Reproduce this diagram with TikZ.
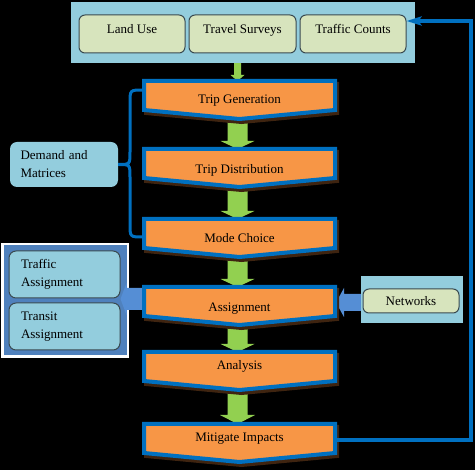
\documentclass[tikz,border=0pt]{standalone}
\usepackage{fontspec}
\setmainfont{Liberation Serif}
\usetikzlibrary{calc,arrows.meta}
\pgfdeclarelayer{back}
\pgfsetlayers{back,main}
\definecolor{bgblue}{HTML}{93CDDD}
\definecolor{pale}{HTML}{D7E4BD}
\definecolor{orng}{HTML}{F79646}
\definecolor{dblue}{HTML}{0070C0}
\definecolor{mblue}{HTML}{558ED5}
\definecolor{pblue}{HTML}{4F81BD}
\definecolor{grn}{HTML}{92D050}
\definecolor{shad}{HTML}{3F2410}
\definecolor{edgec}{HTML}{3A4A50}
\tikzset{
  every node/.style={font=\fontsize{13}{18}\selectfont, inner sep=0pt},
  panel/.style={fill=bgblue},
  palebox/.style={fill=pale, draw=edgec, line width=1pt, rounded corners=6pt, minimum height=38pt, text height=9pt, text depth=9pt},
  sidebox/.style={fill=bgblue, rounded corners=7pt, text width=87pt, align=left},
  flowtext/.style={text height=9pt, text depth=0pt},
  bluelink/.style={draw=dblue, line width=3pt},
}
% orange flow box: name, top y, text y, text
\newcommand\flowbox[4]{%
  \filldraw[shad, line width=4pt] (146,#2+5) -- (337,#2+5) -- (337,#2+34) -- (241.5,#2+43) -- (146,#2+34) -- cycle;
  \draw[dblue, line width=4pt, fill=orng] (144,#2+2) -- (335,#2+2) -- (335,#2+31) -- (239.5,#2+40) -- (144,#2+31) -- cycle;
  \node[flowtext] (#1) at (239.5,#3) {#4};
  \coordinate (#1-top) at (237.5,#2+2);
  \coordinate (#1-bot) at (237.5,#2+30);
  \coordinate (#1-nw) at (142,#2);
  \coordinate (#1-ne) at (337,#2);
}
% green block arrow downward: from, to, half shaft, half head, head length
\newcommand\garrow[5]{%
  \fill[grn] ($(#1)+(-#3,0)$) -- ($(#1)+(#3,0)$) -- ($(#2)+(#3,-#5)$) -- ($(#2)+(#4,-#5)$) -- (#2) -- ($(#2)+(-#4,-#5)$) -- ($(#2)+(-#3,-#5)$) -- cycle;
}
% blue block arrow pointing left: from, to, half shaft, half head, head length
\newcommand\barrow[5]{%
  \fill[mblue] ($(#1)+(0,-#3)$) -- ($(#2)+(#5,-#3)$) -- ($(#2)+(#5,-#4)$) -- (#2) -- ($(#2)+(#5,#4)$) -- ($(#2)+(#5,#3)$) -- ($(#1)+(0,#3)$) -- cycle;
}
\begin{document}
\begin{tikzpicture}[x=1pt,y=-1pt,line join=miter]
\begin{pgfonlayer}{back}
\fill[black] (0,0) rectangle (475,470);
\end{pgfonlayer}
\useasboundingbox (0,0) rectangle (475,470);

% top data panel
\node[panel, minimum width=344pt, minimum height=61pt] (tp) at (243,32.5) {};
\node[palebox, minimum width=106pt] (lu) at (132,34) {Land Use};
\node[palebox, minimum width=107pt] (ts) at (242.5,34) {Travel Surveys};
\node[palebox, minimum width=106pt] (tc) at (353,34) {Traffic Counts};
\coordinate (tp-bot) at (237.5,58);

% demand box
\node[sidebox, minimum width=108pt, minimum height=45pt] (dm) at (64,164.5) {Demand and\\Matrices};

% networks panel
\node[panel, minimum width=102pt, minimum height=47pt] (np) at (412,299.5) {};
\node[palebox, minimum width=96pt, minimum height=24pt, text depth=0pt] (nw) at (411,301) {Networks};

% flow boxes
\flowbox{tg}{79}{99}{Trip Generation}
\flowbox{td}{147}{169}{Trip Distribution}
\flowbox{mc}{217}{238}{Mode Choice}
\flowbox{as}{285}{307}{Assignment}
\flowbox{an}{350}{365}{Analysis}
\flowbox{mi}{422}{437}{Mitigate Impacts}

\begin{pgfonlayer}{back}
  % left assignment panel
  \node[fill=pblue, draw=white, line width=2.5pt, minimum width=125.5pt, minimum height=112.5pt] (lp) at (65,300.5) {};
  \node[sidebox, draw=edgec, line width=1pt, minimum width=111pt, minimum height=47pt] (ta) at (64.5,274.5) {Traffic\\Assignment};
  \node[sidebox, draw=edgec, line width=1pt, minimum width=111pt, minimum height=47pt] (tr) at (64.5,326.5) {Transit\\Assignment};
  % green arrows
  \garrow{tp-bot}{tg-top}{3.5}{7}{6}
  \garrow{tg-bot}{td-top}{10}{17}{8}
  \garrow{td-bot}{mc-top}{10}{17}{8}
  \garrow{mc-bot}{as-top}{10}{17}{8}
  \garrow{as-bot}{an-top}{10}{17}{8}
  \garrow{an-bot}{mi-top}{10}{17.5}{9}
  % blue block arrows
  \coordinate (asW) at ($(as-nw)+(4,14)$);
  \barrow{asW}{ta.east |- asW}{11}{16}{6}
  \coordinate (npW) at ($(np.west)+(2,3)$);
  \coordinate (asE) at ($(as-ne)+(-1,17.5)$);
  \barrow{npW}{asE}{8.5}{14.5}{8}
\end{pgfonlayer}

% brace
\draw[bluelink] ($(tg-nw)+(1,11)$) .. controls (130,90) .. (130,103) -- (130,152)
  .. controls (130,164.5) .. (dm.east) .. controls (130,164.5) .. (130,177) -- (130,224)
  .. controls (130,237) .. ($(mc-nw)+(1,20)$);

% feedback loop
\coordinate (fbc) at (471,21);
\draw[bluelink, line width=3.5pt, -{Stealth[length=15pt,width=9pt,inset=3pt]}] ($(mi-ne)+(0,18)$) -| (fbc) -- (fbc -| tc.east);
\end{tikzpicture}
\end{document}
